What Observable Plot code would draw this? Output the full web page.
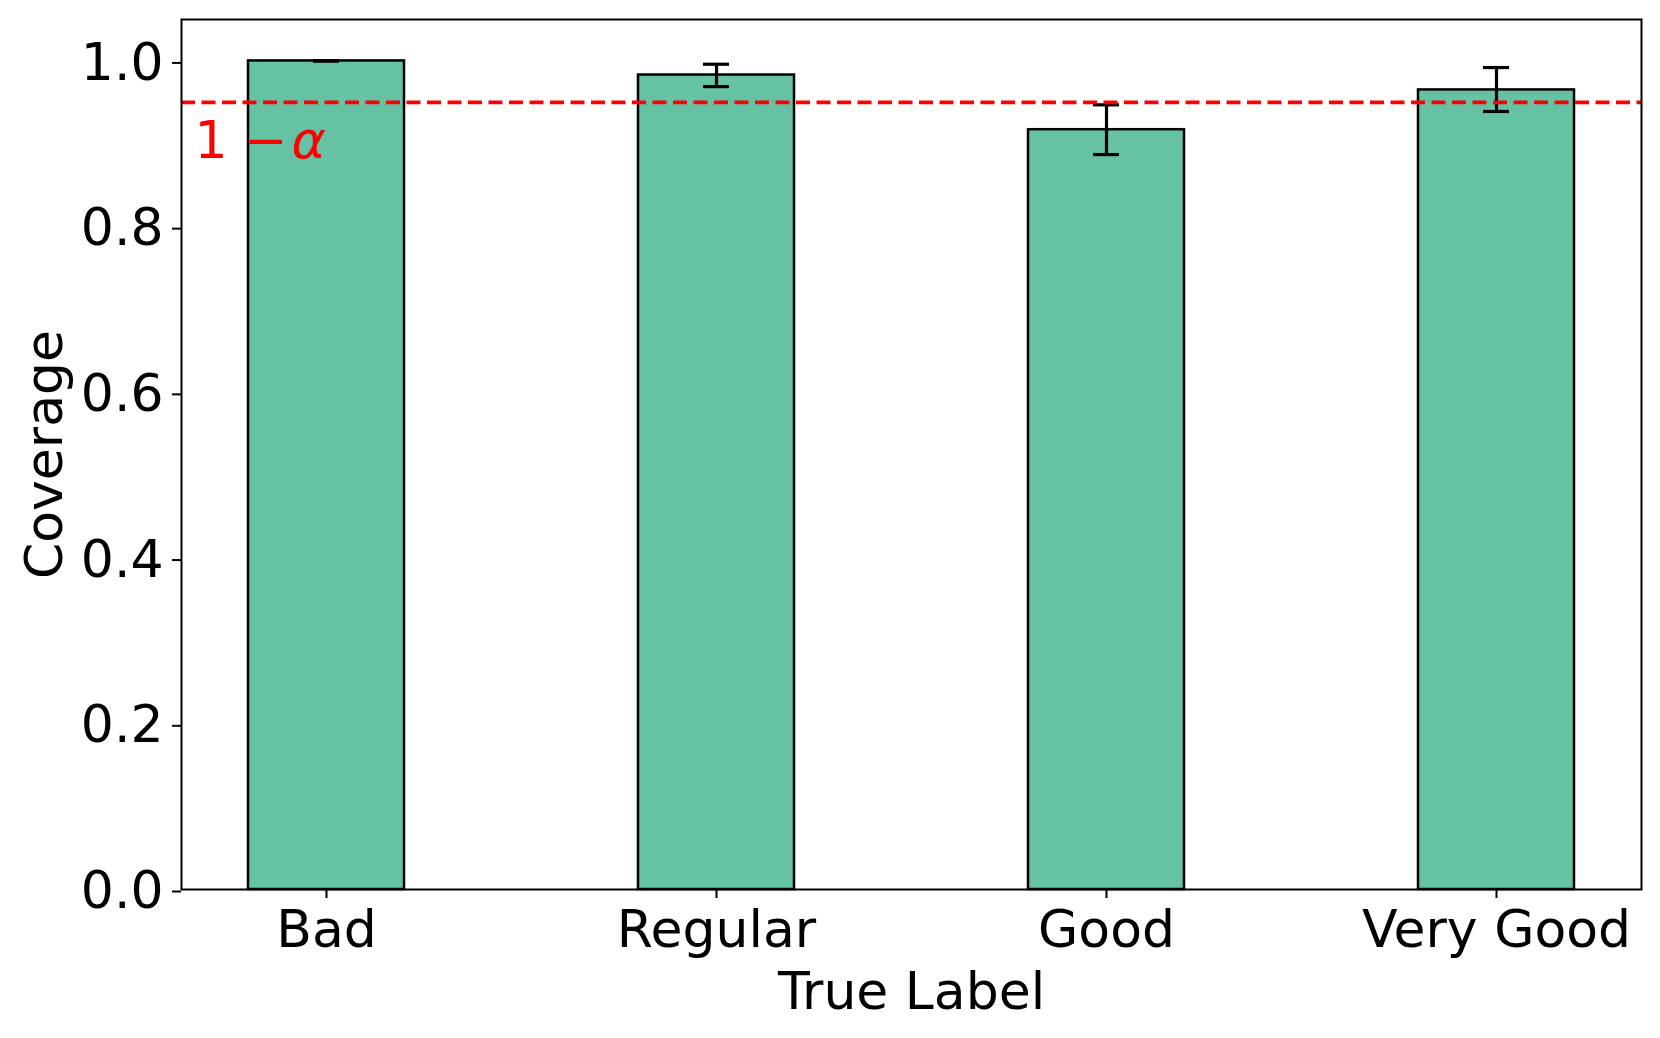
<!DOCTYPE html>
<html>
<head>
<meta charset="utf-8">
<script src="https://cdn.jsdelivr.net/npm/d3@7"></script>
<script src="https://cdn.jsdelivr.net/npm/@observablehq/plot@0.6"></script>
<style>
  html, body { margin: 0; padding: 0; background: white; }
</style>
</head>
<body>
<div id="chart"></div>
<script>
const categories = ["Bad", "Regular", "Good", "Very Good"];
const coverage = [1.0, 0.983, 0.917, 0.965];
const lower = [1.0, 0.969, 0.887, 0.939];
const upper = [1.0, 0.996, 0.947, 0.992];
const yTicks = [0, 0.2, 0.4, 0.6, 0.8, 1.0];
const target = [0.95];
const xTitle = "True Label";
const yTitle = "Coverage";

const data = categories.map((c, i) => ({cat: c, v: coverage[i], lo: lower[i], hi: upper[i]}));

const chart = Plot.plot({
  width: 1660,
  height: 1038,
  marginLeft: 181,
  marginRight: 19,
  marginTop: 19,
  marginBottom: 149,
  style: {fontFamily: "DejaVu Sans", fontSize: "52px", background: "white", color: "black"},
  x: {type: "band", domain: categories, paddingInner: 0.6, paddingOuter: 0.17, align: 0.5},
  y: {domain: [0, 1.05]},
  marks: [
    Plot.barY(data, {x: "cat", y: "v", fill: "#66c2a5", stroke: "black", strokeWidth: 2.5}),
    Plot.ruleX(data, {x: "cat", y1: "lo", y2: "hi", stroke: "black", strokeWidth: 3.2}),
    Plot.tickY(data, {x: "cat", y: "lo", stroke: "black", strokeWidth: 3.2, insetLeft: 65, insetRight: 65}),
    Plot.tickY(data, {x: "cat", y: "hi", stroke: "black", strokeWidth: 3.2, insetLeft: 65, insetRight: 65}),
    Plot.ruleY(target, {stroke: "red", strokeWidth: 3.6, strokeDasharray: "14,6.5"}),
    Plot.text(target, {x: () => categories[0], y: d => d, text: () => "1 −", fill: "red", textAnchor: "start", lineAnchor: "bottom", dx: -132, dy: 56, fontSize: 52}),
    Plot.text(target, {x: () => categories[0], y: d => d, text: () => "α", fill: "red", fontStyle: "italic", textAnchor: "start", lineAnchor: "bottom", dx: -35, dy: 56, fontSize: 52}),
    Plot.frame({stroke: "black", strokeWidth: 2}),
    Plot.axisY({ticks: yTicks, tickFormat: d3.format(".1f"), tickSize: 9, tickPadding: 9, strokeWidth: 2, dy: 2, label: null, fontSize: 52}),
    Plot.axisX({tickSize: 9, tickPadding: 12, strokeWidth: 2, label: null, fontSize: 52}),
    Plot.text([xTitle], {frameAnchor: "bottom", dy: 119, lineAnchor: "bottom", textAnchor: "middle", fontSize: 52}),
    Plot.text([yTitle], {frameAnchor: "left", dx: -120, rotate: -90, lineAnchor: "bottom", textAnchor: "middle", fontSize: 52})
  ]
});
document.getElementById("chart").appendChild(chart);
</script>
</body>
</html>
